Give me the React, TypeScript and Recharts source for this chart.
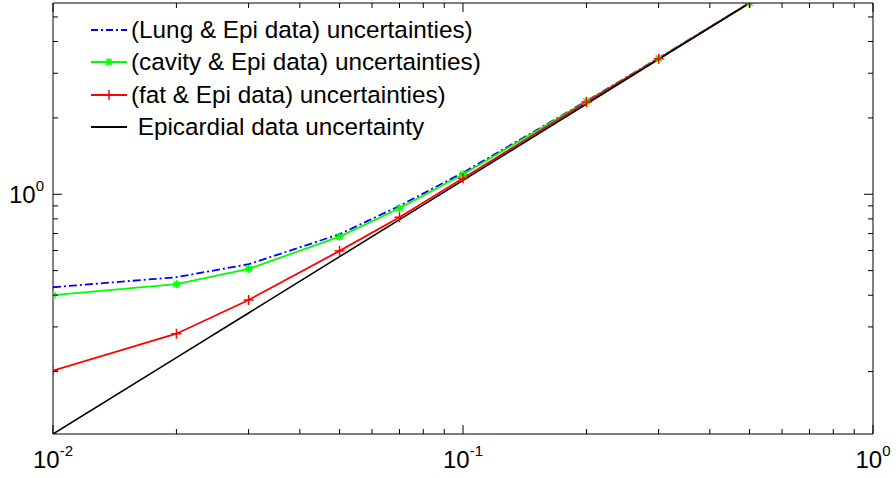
import React from 'react';
import { LineChart, Line, XAxis, YAxis, Legend } from 'recharts';

const xValues = [0.01, 0.02, 0.03, 0.05, 0.07, 0.1, 0.2, 0.3, 0.5];
const lungEpi = [0.43, 0.471, 0.53, 0.696, 0.9, 1.216, 2.33, 3.44, 5.675];
const cavityEpi = [0.4, 0.442, 0.508, 0.681, 0.881, 1.199, 2.32, 3.43, 5.675];
const fatEpi = [0.2015, 0.282, 0.383, 0.598, 0.812, 1.156, 2.31, 3.42, 5.675];
const epicardial = [0.1135, 0.227, 0.3405, 0.5675, 0.7945, 1.135, 2.27, 3.405, 5.675];

const xTicks = [0.01, 0.02, 0.03, 0.04, 0.05, 0.06, 0.07, 0.08, 0.09, 0.1, 0.2, 0.3, 0.4, 0.5, 0.6, 0.7, 0.8, 0.9, 1];
const yTicks = [0.2, 0.3, 0.4, 0.5, 0.6, 0.7, 0.8, 0.9, 1, 2, 3, 4, 5];
const xMajor = [0.01, 0.1, 1];
const yMajor = [1];
const xDomain = [0.01, 1];
const yDomain = [0.1135, 5.675];

const seriesNames = [
  '(Lung & Epi data) uncertainties)',
  '(cavity & Epi data) uncertainties)',
  '(fat & Epi data) uncertainties)',
  ' Epicardial data uncertainty',
];

const data = xValues.map((x, i) => ({
  x,
  lung: lungEpi[i],
  cavity: cavityEpi[i],
  fat: fatEpi[i],
  epi: epicardial[i],
}));

const FONT = '"Liberation Sans", Arial, Helvetica, sans-serif';

const expOf = (v: number) => Math.round(Math.log10(v));
const isMajor = (v: number, list: number[]) => list.some((m) => Math.abs(m - v) < 1e-9);

const XTickBottom = (props: any) => {
  const { x, y, payload } = props;
  const v = payload.value;
  const major = isMajor(v, xMajor);
  return (
    <g>
      <line x1={x} x2={x} y1={y} y2={y - (major ? 9 : 5)} stroke="#000" strokeWidth={1} />
      {major && (
        <text x={x} y={y + 34} textAnchor="middle" fontFamily={FONT} fontSize={24} fill="#000">
          10
          <tspan dy={-12} fontSize={15}>{String(expOf(v))}</tspan>
        </text>
      )}
    </g>
  );
};

const XTickTop = (props: any) => {
  const { x, y, payload } = props;
  const major = isMajor(payload.value, xMajor);
  return <line x1={x} x2={x} y1={y} y2={y + (major ? 9 : 5)} stroke="#000" strokeWidth={1} />;
};

const YTickLeft = (props: any) => {
  const { x, y, payload } = props;
  const v = payload.value;
  const major = isMajor(v, yMajor);
  return (
    <g>
      <line x1={x} x2={x + (major ? 9 : 5)} y1={y} y2={y} stroke="#000" strokeWidth={1} />
      {major && (
        <text x={x - 9} y={y + 9} textAnchor="end" fontFamily={FONT} fontSize={24} fill="#000">
          10
          <tspan dy={-12} fontSize={15}>{String(expOf(v))}</tspan>
        </text>
      )}
    </g>
  );
};

const YTickRight = (props: any) => {
  const { x, y, payload } = props;
  const major = isMajor(payload.value, yMajor);
  return <line x1={x} x2={x - (major ? 9 : 5)} y1={y} y2={y} stroke="#000" strokeWidth={1} />;
};

const StarDot = (props: any) => {
  const { cx, cy } = props;
  if (cx == null || cy == null) return null;
  const r = 4;
  const d = 3;
  return (
    <g stroke="#00ff00" strokeWidth={1.5}>
      <line x1={cx - r} x2={cx + r} y1={cy} y2={cy} />
      <line x1={cx} x2={cx} y1={cy - r} y2={cy + r} />
      <line x1={cx - d} x2={cx + d} y1={cy - d} y2={cy + d} />
      <line x1={cx - d} x2={cx + d} y1={cy + d} y2={cy - d} />
    </g>
  );
};

const PlusDot = (props: any) => {
  const { cx, cy } = props;
  if (cx == null || cy == null) return null;
  const r = 5;
  return (
    <g stroke="#ff0000" strokeWidth={1.5}>
      <line x1={cx - r} x2={cx + r} y1={cy} y2={cy} />
      <line x1={cx} x2={cx} y1={cy - r} y2={cy + r} />
    </g>
  );
};

const legendStyles = [
  { color: '#0000ff', dash: '7 3 2 3', marker: 'none' },
  { color: '#00ff00', dash: undefined, marker: 'star' },
  { color: '#ff0000', dash: undefined, marker: 'plus' },
  { color: '#000000', dash: undefined, marker: 'none' },
];

const LegendContent = () => (
  <div style={{ fontFamily: FONT, fontSize: 24.3, color: '#000' }}>
    {seriesNames.map((name, i) => {
      const s = legendStyles[i];
      return (
        <div key={name} style={{ display: 'flex', alignItems: 'center', height: 32.3, whiteSpace: 'pre' }}>
          <svg width={41} height={14} style={{ display: 'block' }}>
            <line x1={1} x2={37} y1={7} y2={7} stroke={s.color} strokeWidth={1.8} strokeDasharray={s.dash} />
            {s.marker === 'star' && (
              <g stroke={s.color} strokeWidth={1.5}>
                <line x1={15} x2={23} y1={7} y2={7} />
                <line x1={19} x2={19} y1={3} y2={11} />
                <line x1={16} x2={22} y1={4} y2={10} />
                <line x1={16} x2={22} y1={10} y2={4} />
              </g>
            )}
            {s.marker === 'plus' && (
              <g stroke={s.color} strokeWidth={1.5}>
                <line x1={14} x2={24} y1={7} y2={7} />
                <line x1={19} x2={19} y1={2} y2={12} />
              </g>
            )}
          </svg>
          <span>{name}</span>
        </div>
      );
    })}
  </div>
);

export default function App() {
  return (
    <div style={{ position: 'absolute', left: 0, top: 0, background: '#fff' }}>
      <LineChart
        width={896}
        height={478}
        data={data}
        margin={{ top: 2, right: 22, bottom: 43, left: 52 }}
      >
        <XAxis
          xAxisId="bottom"
          dataKey="x"
          type="number"
          scale="log"
          domain={xDomain}
          allowDataOverflow
          ticks={xTicks}
          interval={0}
          height={1}
          tickSize={0}
          tickMargin={0}
          tickLine={false}
          axisLine={{ stroke: '#000', strokeWidth: 1 }}
          tick={<XTickBottom />}
        />
        <XAxis
          xAxisId="top"
          orientation="top"
          dataKey="x"
          type="number"
          scale="log"
          domain={xDomain}
          allowDataOverflow
          ticks={xTicks}
          interval={0}
          height={1}
          tickSize={0}
          tickMargin={0}
          tickLine={false}
          axisLine={{ stroke: '#000', strokeWidth: 1 }}
          tick={<XTickTop />}
        />
        <YAxis
          yAxisId="left"
          type="number"
          scale="log"
          domain={yDomain}
          allowDataOverflow
          ticks={yTicks}
          interval={0}
          width={1}
          tickSize={0}
          tickMargin={0}
          tickLine={false}
          axisLine={{ stroke: '#000', strokeWidth: 1 }}
          tick={<YTickLeft />}
        />
        <YAxis
          yAxisId="right"
          orientation="right"
          type="number"
          scale="log"
          domain={yDomain}
          allowDataOverflow
          ticks={yTicks}
          interval={0}
          width={1}
          tickSize={0}
          tickMargin={0}
          tickLine={false}
          axisLine={{ stroke: '#000', strokeWidth: 1 }}
          tick={<YTickRight />}
        />
        <Legend
          layout="horizontal"
          align="center"
          verticalAlign="middle"
          content={<LegendContent />}
          wrapperStyle={{ left: 90, top: 14, width: 440, height: 130 }}
        />
        <Line
          xAxisId="bottom"
          yAxisId="left"
          dataKey="lung"
          name={seriesNames[0]}
          stroke="#0000ff"
          strokeWidth={1.8}
          strokeDasharray="8 3 2 3"
          dot={false}
          isAnimationActive={false}
        />
        <Line
          xAxisId="bottom"
          yAxisId="left"
          dataKey="cavity"
          name={seriesNames[1]}
          stroke="#00ff00"
          strokeWidth={1.8}
          dot={<StarDot />}
          isAnimationActive={false}
        />
        <Line
          xAxisId="bottom"
          yAxisId="left"
          dataKey="fat"
          name={seriesNames[2]}
          stroke="#ff0000"
          strokeWidth={1.8}
          dot={<PlusDot />}
          isAnimationActive={false}
        />
        <Line
          xAxisId="bottom"
          yAxisId="left"
          dataKey="epi"
          name={seriesNames[3]}
          stroke="#000000"
          strokeWidth={1.6}
          dot={false}
          isAnimationActive={false}
        />
      </LineChart>
    </div>
  );
}
